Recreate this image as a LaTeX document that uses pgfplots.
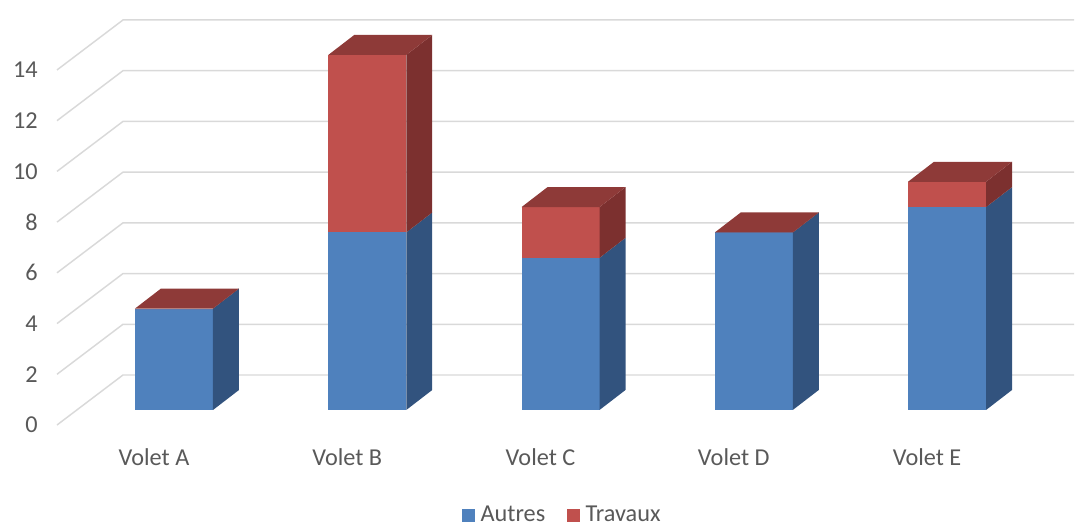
\documentclass[border=0pt]{standalone}
\usepackage{pgfplots}
\pgfplotsset{compat=1.18}
\usepackage{pgfplotstable}
\usepackage{fontspec}
\setmainfont{Carlito}

\definecolor{bfront}{RGB}{79,129,189}
\definecolor{bside}{RGB}{50,83,126}
\definecolor{rfront}{RGB}{192,80,77}
\definecolor{rside}{RGB}{124,48,47}
\definecolor{rtop}{RGB}{142,58,56}
\definecolor{gridc}{RGB}{217,217,217}
\definecolor{txt}{RGB}{89,89,89}

% values per Volet
\pgfplotstableread{
x autres travaux
0 4 0
1 7 7
2 6 2
3 7 0
4 8 1
}\voletdata

% bar geometry (axis units)
\def\hw{0.2018}   % half front width
\def\ddx{0.1345}  % depth shift x
\def\ddy{0.789}   % depth shift y

\newcommand\face[9]{% colour, then 4 points
  \edef\doface{\noexpand\addplot[fill=#1, draw=none, forget plot]
    coordinates {(#2,#3) (#4,#5) (#6,#7) (#8,#9)};}\doface}

\begin{document}
\begin{tikzpicture}
\begin{axis}[
  name=ax,
  scale only axis,
  width=762.75pt, height=303.75pt,
  xmin=-0.6054, xmax=4.657,
  ymin=-0.5915, ymax=15.379,
  clip=false,
  axis line style={draw=none},
  tick style={draw=none},
  xtick={0,1,2,3,4},
  xticklabels={Volet A,Volet B,Volet C,Volet D,Volet E},
  ytick={-0.5915,1.4085,3.4085,5.4085,7.4085,9.4085,11.4085,13.4085},
  yticklabels={0,2,4,6,8,10,12,14},
  ticklabel style={font=\fontsize{18.2}{20}\selectfont, text=txt},
  xticklabel style={xshift=-15pt, yshift=-14.5pt},
  yticklabel style={xshift=-11pt},
  legend style={at={(0.497,-0.222)}, anchor=center, draw=none,
    legend columns=2, font=\fontsize{18.2}{20}\selectfont, text=txt,
    /tikz/every even column/.append style={column sep=14pt}},
  legend image code/.code={\fill[#1] (0pt,-4.5pt) rectangle (9pt,4.5pt);
    \path[draw=none, fill=none] (0pt,0pt) -- (12pt,0pt);},
]
% gridlines: front-left diagonal, then along the back wall
\pgfplotsforeachungrouped \v in {0,2,...,14}{
  \pgfmathsetmacro\ya{\v-0.5915}
  \pgfmathsetmacro\yb{\v+1.380}
  \edef\dogrid{\noexpand\addplot[gridc, line width=1.1pt, forget plot]
    coordinates {(-0.6054,\ya) (-0.2639,\yb) (4.657,\yb)};}\dogrid
}
% 3D stacked bars
\pgfplotsforeachungrouped \i in {0,...,4}{
  \pgfplotstablegetelem{\i}{autres}\of\voletdata \let\va\pgfplotsretval
  \pgfplotstablegetelem{\i}{travaux}\of\voletdata \let\vt\pgfplotsretval
  \pgfmathsetmacro\xl{\i-\hw}
  \pgfmathsetmacro\xr{\i+\hw}
  \pgfmathsetmacro\xs{\xr+\ddx}
  \pgfmathsetmacro\xt{\xl+\ddx}
  \pgfmathsetmacro\vh{\va+\vt}
  \pgfmathsetmacro\ba{\ddy}
  \pgfmathsetmacro\bb{\va+\ddy}
  \pgfmathsetmacro\bc{\vh+\ddy}
  \face{bfront}{\xl}{0}{\xr}{0}{\xr}{\va}{\xl}{\va}
  \face{bside}{\xr}{0}{\xs}{\ba}{\xs}{\bb}{\xr}{\va}
  \face{rfront}{\xl}{\va}{\xr}{\va}{\xr}{\vh}{\xl}{\vh}
  \face{rside}{\xr}{\va}{\xs}{\bb}{\xs}{\bc}{\xr}{\vh}
  \face{rtop}{\xl}{\vh}{\xr}{\vh}{\xs}{\bc}{\xt}{\bc}
}
\addlegendimage{bfront}
\addlegendentry{Autres}
\addlegendimage{rfront}
\addlegendentry{Travaux}
\end{axis}
\path[use as bounding box] ([xshift=-42.75pt,yshift=-73.5pt]ax.south west)
  rectangle ([xshift=764.25pt,yshift=318.75pt]ax.south west);
\end{tikzpicture}
\end{document}
